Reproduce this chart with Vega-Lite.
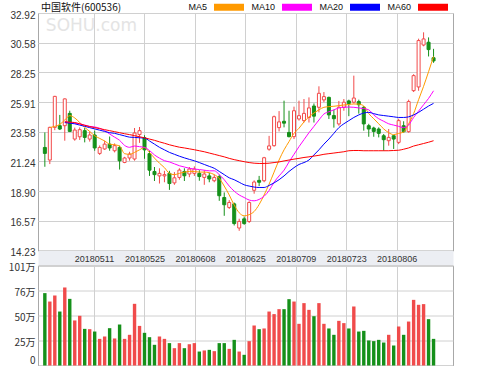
{
  "$schema": "https://vega.github.io/schema/vega-lite/v6.json",
  "background": "white",
  "padding": {"left": 7, "top": 0, "right": 0, "bottom": 0},
  "spacing": 14.5,
  "bounds": "flush",
  "config": {
    "font": "Liberation Sans",
    "view": {"stroke": "#a8a8a8", "strokeWidth": 1},
    "axis": {"labelFont": "Liberation Sans", "labelColor": "#333333", "gridColor": "#d0d0d0", "gridWidth": 1, "ticks": false, "tickSize": 0, "domain": false}
  },
  "datasets": {
    "k": [
      {"i":0,"date":"20180425","open":22.34,"close":21.87,"high":23.52,"low":20.82,"vol":73.1,"MA5":null,"MA10":null,"MA20":null,"MA60":null},
      {"i":1,"date":"20180426","open":21.35,"close":23.92,"high":23.97,"low":21.03,"vol":64.6,"MA5":23.9,"MA10":null,"MA20":null,"MA60":null},
      {"i":2,"date":"20180427","open":23.92,"close":26.36,"high":26.4,"low":23.7,"vol":70.7,"MA5":24.0,"MA10":null,"MA20":null,"MA60":null},
      {"i":3,"date":"20180502","open":24.05,"close":23.79,"high":24.9,"low":23.71,"vol":54.5,"MA5":24.15,"MA10":null,"MA20":null,"MA60":null},
      {"i":4,"date":"20180503","open":24.05,"close":26.16,"high":26.2,"low":22.87,"vol":78.8,"MA5":24.5,"MA10":24.36,"MA20":24.3,"MA60":24.36},
      {"i":5,"date":"20180504","open":25.02,"close":23.6,"high":25.23,"low":23.55,"vol":67.3,"MA5":24.84,"MA10":24.3,"MA20":24.25,"MA60":24.33},
      {"i":6,"date":"20180507","open":23.0,"close":23.71,"high":23.9,"low":22.87,"vol":45.5,"MA5":24.66,"MA10":24.25,"MA20":24.2,"MA60":24.3},
      {"i":7,"date":"20180508","open":23.18,"close":23.74,"high":23.92,"low":22.93,"vol":50.2,"MA5":24.3,"MA10":24.2,"MA20":24.1,"MA60":24.2},
      {"i":8,"date":"20180509","open":23.66,"close":23.13,"high":23.87,"low":22.74,"vol":37.0,"MA5":23.92,"MA10":24.1,"MA20":24.0,"MA60":24.08},
      {"i":9,"date":"20180510","open":23.0,"close":23.32,"high":23.6,"low":22.8,"vol":36.7,"MA5":23.6,"MA10":24.0,"MA20":23.9,"MA60":23.98},
      {"i":10,"date":"20180511","open":23.32,"close":22.3,"high":23.66,"low":22.08,"vol":34.3,"MA5":23.26,"MA10":23.95,"MA20":23.8,"MA60":23.9},
      {"i":11,"date":"20180514","open":21.87,"close":22.34,"high":22.5,"low":21.75,"vol":26.9,"MA5":23.05,"MA10":23.85,"MA20":23.7,"MA60":23.82},
      {"i":12,"date":"20180515","open":22.22,"close":22.6,"high":22.87,"low":22.15,"vol":29.3,"MA5":22.85,"MA10":23.66,"MA20":23.6,"MA60":23.74},
      {"i":13,"date":"20180516","open":22.6,"close":22.3,"high":23.2,"low":22.08,"vol":37.7,"MA5":22.6,"MA10":23.4,"MA20":23.5,"MA60":23.66},
      {"i":14,"date":"20180517","open":22.08,"close":22.48,"high":22.66,"low":21.95,"vol":27.3,"MA5":22.55,"MA10":23.15,"MA20":23.45,"MA60":23.58},
      {"i":15,"date":"20180518","open":22.34,"close":21.29,"high":22.48,"low":20.6,"vol":41.4,"MA5":22.45,"MA10":22.9,"MA20":23.35,"MA60":23.5},
      {"i":16,"date":"20180521","open":21.16,"close":21.51,"high":21.6,"low":21.1,"vol":26.9,"MA5":21.85,"MA10":22.5,"MA20":23.25,"MA60":23.42},
      {"i":17,"date":"20180522","open":21.51,"close":21.82,"high":22.0,"low":21.3,"vol":31.0,"MA5":21.8,"MA10":22.35,"MA20":23.15,"MA60":23.35},
      {"i":18,"date":"20180523","open":21.43,"close":23.48,"high":23.87,"low":21.3,"vol":62.3,"MA5":21.95,"MA10":22.45,"MA20":23.13,"MA60":23.27},
      {"i":19,"date":"20180524","open":23.35,"close":23.66,"high":23.95,"low":22.7,"vol":40.0,"MA5":22.15,"MA10":22.4,"MA20":23.1,"MA60":23.18},
      {"i":20,"date":"20180525","open":23.1,"close":22.15,"high":23.3,"low":21.45,"vol":33.0,"MA5":22.34,"MA10":22.34,"MA20":23.08,"MA60":23.1},
      {"i":21,"date":"20180528","open":21.85,"close":20.55,"high":22.08,"low":20.1,"vol":28.6,"MA5":21.95,"MA10":22.1,"MA20":22.85,"MA60":23.0},
      {"i":22,"date":"20180529","open":20.45,"close":20.2,"high":20.8,"low":19.7,"vol":20.9,"MA5":21.5,"MA10":21.75,"MA20":22.6,"MA60":22.9},
      {"i":23,"date":"20180530","open":20.1,"close":20.3,"high":20.7,"low":19.5,"vol":29.3,"MA5":21.1,"MA10":21.5,"MA20":22.35,"MA60":22.78},
      {"i":24,"date":"20180531","open":20.1,"close":20.2,"high":20.5,"low":19.6,"vol":26.9,"MA5":20.75,"MA10":21.3,"MA20":22.15,"MA60":22.67},
      {"i":25,"date":"20180601","open":20.3,"close":19.5,"high":20.5,"low":19.0,"vol":22.6,"MA5":20.3,"MA10":21.2,"MA20":21.95,"MA60":22.55},
      {"i":26,"date":"20180604","open":19.55,"close":19.95,"high":20.4,"low":19.4,"vol":17.5,"MA5":20.2,"MA10":21.05,"MA20":21.8,"MA60":22.45},
      {"i":27,"date":"20180605","open":19.98,"close":20.56,"high":20.7,"low":19.8,"vol":22.6,"MA5":20.3,"MA10":20.9,"MA20":21.65,"MA60":22.36},
      {"i":28,"date":"20180606","open":20.45,"close":20.11,"high":20.7,"low":19.7,"vol":17.5,"MA5":20.4,"MA10":20.8,"MA20":21.52,"MA60":22.3},
      {"i":29,"date":"20180607","open":20.25,"close":20.64,"high":20.8,"low":20.0,"vol":21.5,"MA5":20.45,"MA10":20.7,"MA20":21.4,"MA60":22.23},
      {"i":30,"date":"20180608","open":20.3,"close":20.64,"high":20.85,"low":20.1,"vol":22.6,"MA5":20.45,"MA10":20.64,"MA20":21.29,"MA60":22.16},
      {"i":31,"date":"20180611","open":20.3,"close":20.05,"high":20.55,"low":19.72,"vol":14.1,"MA5":20.4,"MA10":20.6,"MA20":21.15,"MA60":22.08},
      {"i":32,"date":"20180612","open":19.98,"close":20.25,"high":20.55,"low":19.4,"vol":15.2,"MA5":20.4,"MA10":20.55,"MA20":21.0,"MA60":22.0},
      {"i":33,"date":"20180613","open":20.1,"close":19.86,"high":20.35,"low":19.6,"vol":15.8,"MA5":20.35,"MA10":20.5,"MA20":20.85,"MA60":21.9},
      {"i":34,"date":"20180614","open":19.72,"close":19.98,"high":20.2,"low":19.6,"vol":14.5,"MA5":20.2,"MA10":20.5,"MA20":20.7,"MA60":21.8},
      {"i":35,"date":"20180615","open":20.04,"close":18.54,"high":20.2,"low":18.14,"vol":22.6,"MA5":19.9,"MA10":20.2,"MA20":20.45,"MA60":21.7},
      {"i":36,"date":"20180619","open":18.4,"close":17.83,"high":18.8,"low":16.96,"vol":22.6,"MA5":19.3,"MA10":19.8,"MA20":20.2,"MA60":21.6},
      {"i":37,"date":"20180620","open":17.62,"close":18.01,"high":18.2,"low":17.5,"vol":16.8,"MA5":18.6,"MA10":19.3,"MA20":19.95,"MA60":21.48},
      {"i":38,"date":"20180621","open":17.9,"close":16.35,"high":18.0,"low":16.2,"vol":25.9,"MA5":17.8,"MA10":18.9,"MA20":19.8,"MA60":21.38},
      {"i":39,"date":"20180622","open":16.0,"close":16.52,"high":16.73,"low":15.78,"vol":14.1,"MA5":17.2,"MA10":18.6,"MA20":19.6,"MA60":21.3},
      {"i":40,"date":"20180625","open":16.72,"close":16.35,"high":16.9,"low":16.25,"vol":10.8,"MA5":16.96,"MA10":18.4,"MA20":19.4,"MA60":21.22},
      {"i":41,"date":"20180626","open":16.51,"close":18.01,"high":18.1,"low":16.4,"vol":24.6,"MA5":17.05,"MA10":18.2,"MA20":19.3,"MA60":21.15},
      {"i":42,"date":"20180627","open":18.97,"close":19.62,"high":19.75,"low":18.7,"vol":40.4,"MA5":17.3,"MA10":18.14,"MA20":19.22,"MA60":21.1},
      {"i":43,"date":"20180628","open":19.75,"close":19.6,"high":20.1,"low":19.3,"vol":36.7,"MA5":17.85,"MA10":18.25,"MA20":19.19,"MA60":21.08},
      {"i":44,"date":"20180629","open":19.72,"close":21.53,"high":21.6,"low":19.6,"vol":37.4,"MA5":18.6,"MA10":18.5,"MA20":19.19,"MA60":21.08},
      {"i":45,"date":"20180702","open":22.2,"close":22.46,"high":23.25,"low":22.08,"vol":54.5,"MA5":19.45,"MA10":18.95,"MA20":19.35,"MA60":21.1},
      {"i":46,"date":"20180703","open":22.48,"close":24.76,"high":24.85,"low":22.4,"vol":51.9,"MA5":20.4,"MA10":19.6,"MA20":19.55,"MA60":21.15},
      {"i":47,"date":"20180704","open":23.9,"close":24.35,"high":25.2,"low":23.6,"vol":56.9,"MA5":21.35,"MA10":20.1,"MA20":19.8,"MA60":21.2},
      {"i":48,"date":"20180705","open":24.4,"close":24.25,"high":26.02,"low":23.92,"vol":56.9,"MA5":22.15,"MA10":20.55,"MA20":20.1,"MA60":21.28},
      {"i":49,"date":"20180706","open":23.52,"close":23.19,"high":25.23,"low":23.13,"vol":67.0,"MA5":22.8,"MA10":21.2,"MA20":20.45,"MA60":21.35},
      {"i":50,"date":"20180709","open":23.19,"close":25.23,"high":25.55,"low":23.0,"vol":64.6,"MA5":23.45,"MA10":21.8,"MA20":20.75,"MA60":21.42},
      {"i":51,"date":"20180710","open":24.58,"close":24.84,"high":26.02,"low":24.45,"vol":42.1,"MA5":23.85,"MA10":22.4,"MA20":21.0,"MA60":21.48},
      {"i":52,"date":"20180711","open":24.45,"close":25.02,"high":26.15,"low":24.3,"vol":63.0,"MA5":24.35,"MA10":22.95,"MA20":21.15,"MA60":21.55},
      {"i":53,"date":"20180712","open":24.7,"close":25.45,"high":26.28,"low":24.3,"vol":56.2,"MA5":24.75,"MA10":23.5,"MA20":21.35,"MA60":21.6},
      {"i":54,"date":"20180713","open":25.6,"close":24.8,"high":25.8,"low":24.3,"vol":49.8,"MA5":25.05,"MA10":24.0,"MA20":21.75,"MA60":21.66},
      {"i":55,"date":"20180716","open":25.5,"close":26.6,"high":27.15,"low":25.1,"vol":63.0,"MA5":25.3,"MA10":24.5,"MA20":22.15,"MA60":21.72},
      {"i":56,"date":"20180717","open":26.08,"close":26.34,"high":26.7,"low":25.9,"vol":42.1,"MA5":25.5,"MA10":24.97,"MA20":22.6,"MA60":21.8},
      {"i":57,"date":"20180718","open":26.28,"close":24.9,"high":26.34,"low":24.58,"vol":37.4,"MA5":25.55,"MA10":25.15,"MA20":23.0,"MA60":21.85},
      {"i":58,"date":"20180719","open":24.85,"close":24.6,"high":25.3,"low":23.9,"vol":31.0,"MA5":25.58,"MA10":25.3,"MA20":23.45,"MA60":21.9},
      {"i":59,"date":"20180720","open":24.19,"close":25.5,"high":26.0,"low":24.05,"vol":45.1,"MA5":25.63,"MA10":25.45,"MA20":23.9,"MA60":21.95},
      {"i":60,"date":"20180723","open":25.5,"close":25.9,"high":26.15,"low":25.23,"vol":42.8,"MA5":25.68,"MA10":25.5,"MA20":24.2,"MA60":22.0},
      {"i":61,"date":"20180724","open":26.0,"close":25.8,"high":26.1,"low":24.8,"vol":37.4,"MA5":25.72,"MA10":25.52,"MA20":24.45,"MA60":22.08},
      {"i":62,"date":"20180725","open":25.9,"close":26.23,"high":27.99,"low":25.8,"vol":59.6,"MA5":25.76,"MA10":25.5,"MA20":24.7,"MA60":22.1},
      {"i":63,"date":"20180726","open":25.95,"close":25.7,"high":26.1,"low":25.0,"vol":34.3,"MA5":25.75,"MA10":25.45,"MA20":24.9,"MA60":22.1},
      {"i":64,"date":"20180727","open":25.5,"close":24.19,"high":25.6,"low":23.66,"vol":35.0,"MA5":25.6,"MA10":25.4,"MA20":25.05,"MA60":22.08},
      {"i":65,"date":"20180730","open":24.05,"close":23.79,"high":24.2,"low":23.18,"vol":25.3,"MA5":25.0,"MA10":25.3,"MA20":25.1,"MA60":22.08},
      {"i":66,"date":"20180731","open":23.87,"close":23.6,"high":23.97,"low":23.18,"vol":24.6,"MA5":24.6,"MA10":24.9,"MA20":25.0,"MA60":22.08},
      {"i":67,"date":"20180801","open":23.79,"close":23.45,"high":23.92,"low":23.13,"vol":25.9,"MA5":24.2,"MA10":24.6,"MA20":24.9,"MA60":22.08},
      {"i":68,"date":"20180802","open":23.26,"close":22.95,"high":23.4,"low":22.08,"vol":23.2,"MA5":23.8,"MA10":24.4,"MA20":24.85,"MA60":22.08},
      {"i":69,"date":"20180803","open":22.87,"close":23.13,"high":23.79,"low":22.48,"vol":31.0,"MA5":23.5,"MA10":24.2,"MA20":24.8,"MA60":22.08},
      {"i":70,"date":"20180806","open":23.26,"close":23.0,"high":23.3,"low":22.22,"vol":20.2,"MA5":23.35,"MA10":24.1,"MA20":24.75,"MA60":22.1},
      {"i":71,"date":"20180807","open":22.74,"close":24.45,"high":24.6,"low":22.6,"vol":39.4,"MA5":23.45,"MA10":24.0,"MA20":24.7,"MA60":22.12},
      {"i":72,"date":"20180808","open":24.05,"close":23.58,"high":24.4,"low":23.5,"vol":31.0,"MA5":23.55,"MA10":23.9,"MA20":24.7,"MA60":22.2},
      {"i":73,"date":"20180809","open":23.58,"close":25.95,"high":26.1,"low":23.5,"vol":44.4,"MA5":24.2,"MA10":24.1,"MA20":24.75,"MA60":22.3},
      {"i":74,"date":"20180810","open":26.81,"close":27.99,"high":28.1,"low":26.7,"vol":66.3,"MA5":25.0,"MA10":24.7,"MA20":24.9,"MA60":22.45},
      {"i":75,"date":"20180813","open":27.1,"close":30.75,"high":30.9,"low":26.8,"vol":61.3,"MA5":26.1,"MA10":25.2,"MA20":25.1,"MA60":22.55},
      {"i":76,"date":"20180814","open":30.4,"close":30.88,"high":31.4,"low":30.3,"vol":62.0,"MA5":27.15,"MA10":25.7,"MA20":25.35,"MA60":22.65},
      {"i":77,"date":"20180815","open":30.62,"close":30.04,"high":31.0,"low":29.5,"vol":46.8,"MA5":28.3,"MA10":26.2,"MA20":25.6,"MA60":22.75},
      {"i":78,"date":"20180816","open":29.4,"close":29.15,"high":30.1,"low":29.0,"vol":26.9,"MA5":29.5,"MA10":26.8,"MA20":25.81,"MA60":22.87}
    ]
  },
  "data": {"name": "k"},
  "vconcat": [
    {
      "width": 415,
      "height": 237.5,
      "title": {"text": "中国软件(600536)", "anchor": "start", "frame": "group", "font": "Noto Sans CJK SC", "fontSize": 10, "fontWeight": "normal", "color": "#111111", "offset": 0, "dx": 3, "dy": 3},
      "layer": [
        {
          "mark": {"type": "rule", "strokeWidth": 1},
          "encoding": {
            "x": {"field": "i", "type": "quantitative", "scale": {"domain": [-0.37, 80.9], "nice": false, "zero": false},
              "axis": {"values": [9.87, 19.99, 30.11, 40.23, 50.35, 60.47, 70.59], "grid": true, "labels": false, "domain": true, "domainColor": "#eceef3", "domainWidth": 14.5, "offset": 7.25, "title": null}},
            "y": {"field": "low", "type": "quantitative", "scale": {"domain": [14.23, 32.92], "nice": false, "zero": false},
              "axis": {"values": [14.23, 16.57, 18.90, 21.24, 23.58, 25.91, 28.25, 30.58, 32.92], "format": ".2f", "grid": true, "labelFontSize": 10, "labelPadding": 3, "labelOffset": 2, "labelFlush": false, "labelOverlap": false, "labelBaseline": "middle", "title": null}},
            "y2": {"field": "high"},
            "color": {"condition": {"test": "datum.close >= datum.open", "value": "#f24a4a"}, "value": "#15901a"}
          }
        },
        {
          "data": {"values": [{"label": "SOHU.com"}]},
          "mark": {"type": "text", "align": "left", "baseline": "middle", "font": "DejaVu Sans", "fontSize": 17, "color": "#e4e4e4"},
          "encoding": {
            "text": {"field": "label"},
            "x": {"datum": 0.2, "type": "quantitative", "scale": {"domain": [-0.37, 80.9], "nice": false, "zero": false},
              "axis": {"values": [9.87, 19.99, 30.11, 40.23, 50.35, 60.47, 70.59], "grid": true, "labels": false, "domain": true, "domainColor": "#eceef3", "domainWidth": 14.5, "offset": 7.25, "title": null}},
            "y": {"datum": 31.9, "type": "quantitative", "scale": {"domain": [14.23, 32.92], "nice": false, "zero": false},
              "axis": {"values": [14.23, 16.57, 18.90, 21.24, 23.58, 25.91, 28.25, 30.58, 32.92], "format": ".2f", "grid": true, "labelFontSize": 10, "labelPadding": 3, "labelOffset": 2, "labelFlush": false, "labelOverlap": false, "labelBaseline": "middle", "title": null}}
          }
        },
        {
          "mark": {"type": "bar", "size": 3, "strokeWidth": 1},
          "encoding": {
            "x": {"field": "i", "type": "quantitative", "scale": {"domain": [-0.37, 80.9], "nice": false, "zero": false},
              "axis": {"values": [9.87, 19.99, 30.11, 40.23, 50.35, 60.47, 70.59], "grid": true, "labels": false, "domain": true, "domainColor": "#eceef3", "domainWidth": 14.5, "offset": 7.25, "title": null}},
            "y": {"field": "open", "type": "quantitative", "scale": {"domain": [14.23, 32.92], "nice": false, "zero": false},
              "axis": {"values": [14.23, 16.57, 18.90, 21.24, 23.58, 25.91, 28.25, 30.58, 32.92], "format": ".2f", "grid": true, "labelFontSize": 10, "labelPadding": 3, "labelOffset": 2, "labelFlush": false, "labelOverlap": false, "labelBaseline": "middle", "title": null}},
            "y2": {"field": "close"},
            "fill": {"condition": {"test": "datum.close >= datum.open", "value": "#ffffff"}, "value": "#15901a"},
            "stroke": {"condition": {"test": "datum.close >= datum.open", "value": "#f24a4a"}, "value": "#15901a"}
          }
        },
        {
          "transform": [{"fold": ["MA5", "MA10", "MA20", "MA60"], "as": ["ma", "val"]}],
          "mark": {"type": "line", "strokeWidth": 1, "interpolate": "monotone"},
          "encoding": {
            "x": {"field": "i", "type": "quantitative", "scale": {"domain": [-0.37, 80.9], "nice": false, "zero": false},
              "axis": {"values": [9.87, 19.99, 30.11, 40.23, 50.35, 60.47, 70.59], "grid": true, "labels": false, "domain": true, "domainColor": "#eceef3", "domainWidth": 14.5, "offset": 7.25, "title": null}},
            "y": {"field": "val", "type": "quantitative", "scale": {"domain": [14.23, 32.92], "nice": false, "zero": false},
              "axis": {"values": [14.23, 16.57, 18.90, 21.24, 23.58, 25.91, 28.25, 30.58, 32.92], "format": ".2f", "grid": true, "labelFontSize": 10, "labelPadding": 3, "labelOffset": 2, "labelFlush": false, "labelOverlap": false, "labelBaseline": "middle", "title": null}},
            "color": {"field": "ma", "type": "nominal",
              "scale": {"domain": ["MA5", "MA10", "MA20", "MA60"], "range": ["#ff9a00", "#ff00ff", "#0000ff", "#ff0000"]},
              "legend": {"orient": "none", "legendX": 184.5, "legendY": -12.5, "direction": "horizontal", "title": null,
                "symbolType": "M-5,0H5", "symbolSize": 36, "symbolStrokeWidth": 7, "labelAlign": "right", "labelOffset": -28.5,
                "labelFontSize": 9, "labelColor": "#111111", "columnPadding": -8, "labelFont": "Liberation Sans"}}
          }
        }
      ]
    },
    {
      "width": 415,
      "height": 100,
      "mark": {"type": "bar", "size": 3.4},
      "encoding": {
        "x": {"field": "i", "type": "quantitative", "scale": {"domain": [-0.37, 80.9], "nice": false, "zero": false},
          "axis": {"orient": "top", "values": [9.87, 19.99, 30.11, 40.23, 50.35, 60.47, 70.59],
            "labelExpr": "datum.value < 15 ? '20180511' : datum.value < 25 ? '20180525' : datum.value < 35 ? '20180608' : datum.value < 45 ? '20180625' : datum.value < 55 ? '20180709' : datum.value < 65 ? '20180723' : '20180806'",
            "grid": true, "labels": true, "domain": false, "labelBaseline": "middle", "labelPadding": 7.25, "labelFontSize": 9, "labelFlush": false, "labelOverlap": false, "title": null}},
        "y": {"field": "vol", "type": "quantitative", "scale": {"domain": [0, 101], "nice": false},
          "axis": {"values": [0, 25.25, 50.5, 75.75, 101],
            "labelExpr": "datum.value == 0 ? '0' : datum.value == 25.25 ? '25万' : datum.value == 50.5 ? '50万' : datum.value == 75.75 ? '76万' : '101万'",
            "labelFont": "Noto Sans CJK SC", "labelFontSize": 10, "labelPadding": 3,
            "labelOffset": {"condition": {"test": "datum.value == 0", "value": -0.5}, "value": 1.5},
            "labelBaseline": {"condition": {"test": "datum.value == 0", "value": "bottom"}, "value": "middle"},
            "labelFlush": false, "labelOverlap": false, "grid": true, "title": null}},
        "color": {"condition": {"test": "datum.close >= datum.open", "value": "#f04b4b"}, "value": "#15901a"}
      }
    }
  ]
}
